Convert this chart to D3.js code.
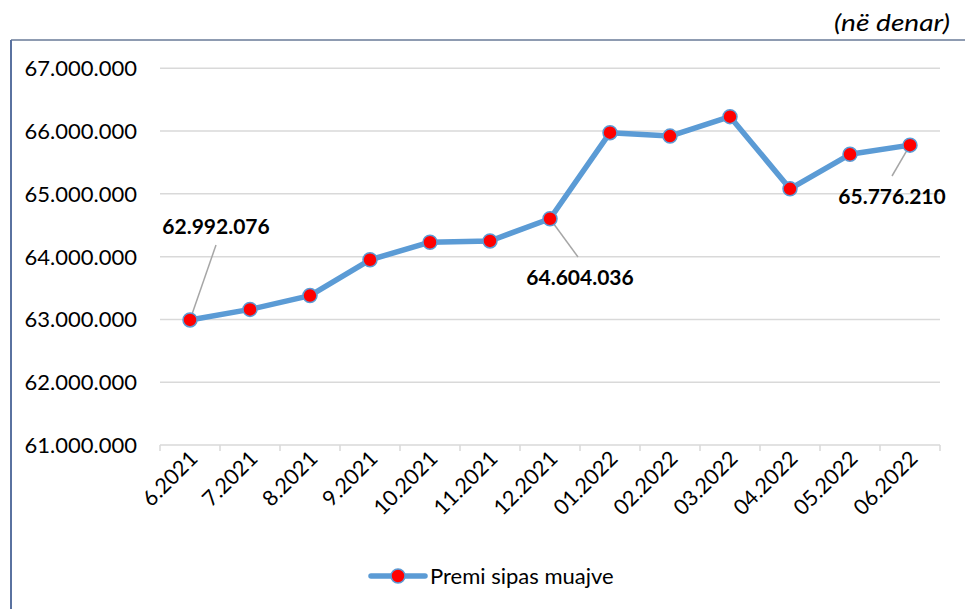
<!DOCTYPE html>
<html>
<head>
<meta charset="utf-8">
<script src="https://cdn.jsdelivr.net/npm/d3@7"></script>
<style>
  html, body { margin: 0; padding: 0; background: #fff; }
  svg { display: block; font-family: Lato, "Open Sans", sans-serif; }
</style>
</head>
<body>
<svg id="chart" width="965" height="609"></svg>
<script>
const categories = ["6.2021","7.2021","8.2021","9.2021","10.2021","11.2021","12.2021","01.2022","02.2022","03.2022","04.2022","05.2022","06.2022"];
const values = [62992076, 63160000, 63380000, 63950000, 64230000, 64250000, 64604036, 65975000, 65920000, 66230000, 65080000, 65630000, 65776210];
const yTicks = [61000000, 62000000, 63000000, 64000000, 65000000, 66000000, 67000000];
const labelledIdx = [0, 6, 12];
const seriesName = "Premi sipas muajve";
const unitNote = "(në denar)";

const svg = d3.select("#chart");
const fmt = v => d3.format(",")(v).replace(/,/g, ".");

// frame
svg.append("path")
  .attr("d", "M11,620 L11,40 L970,40")
  .attr("fill", "none").attr("stroke", "#1F3864").attr("stroke-width", 1);
svg.append("line").attr("x1", 11).attr("x2", 11).attr("y1", 40).attr("y2", 620)
  .attr("stroke", "#5A72A0").attr("stroke-width", 2);

svg.append("text").attr("x", 950).attr("y", 31).attr("text-anchor", "end")
  .attr("font-style", "italic").attr("font-size", 23).attr("fill", "#000")
  .attr("textLength", 116).attr("lengthAdjust", "spacingAndGlyphs")
  .text(unitNote);

const x = d3.scaleBand().domain(categories).range([160, 940]);
const y = d3.scaleLinear().domain([61000000, 67000000]).range([445, 68.3]);

// gridlines
svg.append("g").selectAll("line").data(yTicks.slice(1)).join("line")
  .attr("x1", 160).attr("x2", 940)
  .attr("y1", d => y(d)).attr("y2", d => y(d))
  .attr("stroke", "#D9D9D9").attr("stroke-width", 1.5);

// y labels
svg.append("g").selectAll("text").data(yTicks).join("text")
  .attr("x", 137).attr("y", d => y(d)).attr("dy", "0.36em")
  .attr("text-anchor", "end").attr("font-size", 22).attr("fill", "#000")
  .text(fmt);

// x axis
const xAxis = svg.append("g").attr("transform", "translate(0,445)");
xAxis.append("line").attr("x1", 160).attr("x2", 940).attr("y1", 0).attr("y2", 0)
  .attr("stroke", "#D9D9D9").attr("stroke-width", 1.5);
const edges = categories.map(c => x(c)).concat([x.range()[1]]);
xAxis.selectAll("line.tk").data(edges).join("line").attr("class", "tk")
  .attr("x1", d => d).attr("x2", d => d).attr("y1", 0).attr("y2", 6)
  .attr("stroke", "#D9D9D9").attr("stroke-width", 1.5);
xAxis.selectAll("text").data(categories).join("text")
  .attr("transform", d => `translate(${x(d) + x.bandwidth() / 2 + 9},${15}) rotate(-45)`)
  .attr("text-anchor", "end").attr("font-size", 21.5).attr("fill", "#000")
  .text(d => d);

// line
const cx = (d, i) => x(categories[i]) + x.bandwidth() / 2;
const line = d3.line().x((d, i) => cx(d, i)).y(d => y(d));
svg.append("path").datum(values).attr("d", line)
  .attr("fill", "none").attr("stroke", "#5B9BD5").attr("stroke-width", 5.5)
  .attr("stroke-linejoin", "round");

// leader lines + labels
const labelPos = {
  0: { lx: 216, ly: 234, x1: 216, y1: 245 },
  6: { lx: 580, ly: 285, x1: 578, y1: 257 },
  12: { lx: 892, ly: 204, x1: 892, y1: 176 }
};
labelledIdx.forEach(i => {
  const p = labelPos[i];
  svg.append("line").attr("x1", p.x1).attr("y1", p.y1)
    .attr("x2", cx(values[i], i)).attr("y2", y(values[i]))
    .attr("stroke", "#A6A6A6").attr("stroke-width", 1.5);
});

// markers
svg.append("g").selectAll("circle").data(values).join("circle")
  .attr("cx", (d, i) => cx(d, i)).attr("cy", d => y(d)).attr("r", 7)
  .attr("fill", "#FF0000").attr("stroke", "#5B9BD5").attr("stroke-width", 1.5);

labelledIdx.forEach(i => {
  const p = labelPos[i];
  svg.append("text").attr("x", p.lx).attr("y", p.ly).attr("text-anchor", "middle")
    .attr("font-size", 21).attr("font-weight", "bold").attr("fill", "#000")
    .text(fmt(values[i]));
});

// legend
const lg = svg.append("g");
lg.append("line").attr("x1", 371).attr("x2", 425).attr("y1", 576).attr("y2", 576)
  .attr("stroke", "#5B9BD5").attr("stroke-width", 5.5).attr("stroke-linecap", "round");
lg.append("circle").attr("cx", 398).attr("cy", 576).attr("r", 7)
  .attr("fill", "#FF0000").attr("stroke", "#5B9BD5").attr("stroke-width", 1.5);
lg.append("text").attr("x", 430).attr("y", 576).attr("dy", "0.36em")
  .attr("font-size", 22).attr("fill", "#000").text(seriesName);
</script>
</body>
</html>
